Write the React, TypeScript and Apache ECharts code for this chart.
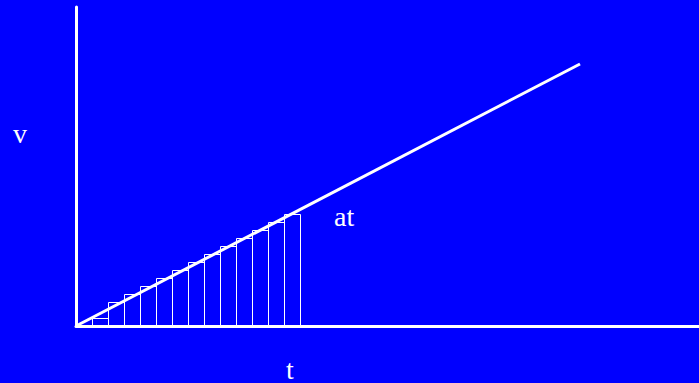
import React, { useEffect, useRef } from "react";
import * as echarts from "echarts";

// Rectangles under the line: [start t, end t, height v]
const barStarts = [0, 1, 2, 3, 4, 5, 6, 7, 8, 9, 10, 11, 12, 13];
const barHeights = [0, 1, 3, 4, 5, 6, 7, 8, 9, 10, 11, 12, 13, 14];
// Line v = a t
const lineT = [0, 31.5];
const lineV = [0, 32.75];
const labels = { v: "v", t: "t", at: "at" };

export default function App() {
  const ref = useRef<HTMLDivElement>(null);
  useEffect(() => {
    if (!ref.current) return;
    const chart = echarts.init(ref.current, null, { renderer: "svg" });
    const barData = barStarts.map((s, i) => [s, s + 1, barHeights[i]]);
    const lineData = lineT.map((t, i) => [t, lineV[i]]);
    const font = "'Liberation Serif', 'Times New Roman', serif";
    chart.setOption({
      animation: false,
      backgroundColor: "#0000FF",
      grid: { left: 76, right: 0, top: 7, bottom: 57 },
      xAxis: {
        type: "value",
        min: 0,
        max: 38.9375,
        axisLine: { show: true, onZero: false, lineStyle: { color: "#ffffff", width: 3 } },
        axisTick: { show: false },
        axisLabel: { show: false },
        splitLine: { show: false },
      },
      yAxis: {
        type: "value",
        min: 0,
        max: 39.875,
        axisLine: { show: true, onZero: false, lineStyle: { color: "#ffffff", width: 3 } },
        axisTick: { show: false },
        axisLabel: { show: false },
        splitLine: { show: false },
      },
      series: [
        {
          type: "custom",
          data: barData,
          renderItem: (params: any, api: any) => {
            const x0 = api.value(0);
            const x1 = api.value(1);
            const h = api.value(2);
            const p0 = api.coord([x0, 0]);
            const p1 = api.coord([x1, h]);
            const left = Math.round(p0[0]) + 0.5;
            const right = Math.round(p1[0]) + 0.5;
            const top = Math.round(p1[1]) + 0.5;
            const bottom = Math.round(p0[1]) + 0.5;
            return {
              type: "rect",
              shape: { x: left, y: top, width: right - left, height: bottom - top },
              style: { fill: "none", stroke: "#ffffff", lineWidth: 1 },
            };
          },
          z: 1,
        },
        {
          type: "line",
          data: lineData,
          showSymbol: false,
          symbol: "none",
          lineStyle: { color: "#ffffff", width: 3 },
          z: 2,
        },
      ],
      graphic: [
        {
          type: "text",
          x: 20,
          y: 133,
          style: { text: labels.v, fill: "#ffffff", font: `28px ${font}`, align: "center", verticalAlign: "middle" },
        },
        {
          type: "text",
          x: 334,
          y: 216,
          style: { text: labels.at, fill: "#ffffff", font: `28px ${font}`, align: "left", verticalAlign: "middle" },
        },
        {
          type: "text",
          x: 290,
          y: 369,
          style: { text: labels.t, fill: "#ffffff", font: `28px ${font}`, align: "center", verticalAlign: "middle" },
        },
      ],
    });
    return () => chart.dispose();
  }, []);
  return (
    <div
      ref={ref}
      style={{ position: "absolute", left: 0, top: 0, width: 699, height: 383 }}
    />
  );
}
